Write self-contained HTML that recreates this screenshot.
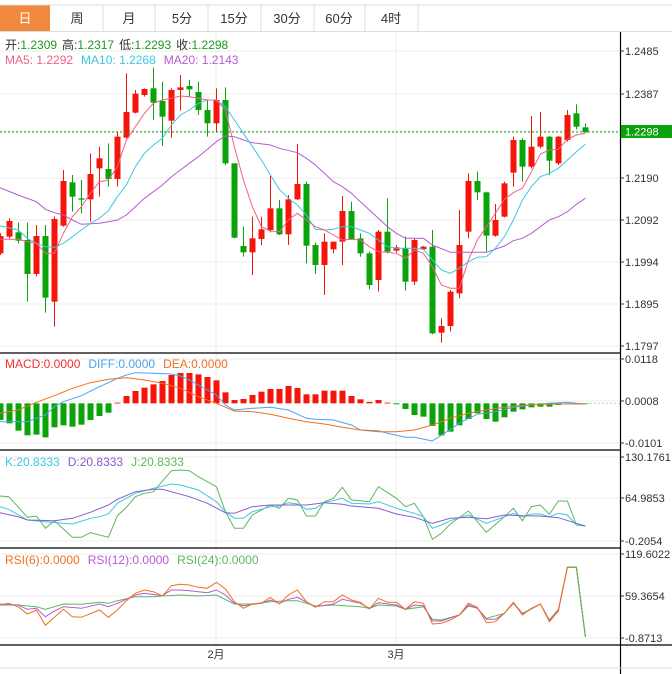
<!DOCTYPE html>
<html><head><meta charset="utf-8"><style>
html,body{margin:0;padding:0;background:#fff;}
body{width:672px;height:674px;overflow:hidden;position:relative;font-family:"Liberation Sans","Noto Sans CJK SC",sans-serif;}
svg{position:absolute;left:0;top:0;}
</style></head><body>
<svg id="s" width="672" height="674" xmlns="http://www.w3.org/2000/svg" font-family="Liberation Sans, Noto Sans CJK SC, sans-serif">
<rect x="0" y="5" width="50" height="26" fill="#f0883e"/>
<line x1="0" y1="5" x2="672" y2="5" stroke="#ddd"/>
<line x1="0" y1="31.5" x2="672" y2="31.5" stroke="#ddd"/>
<g stroke="#ddd"><line x1="103" y1="5" x2="103" y2="31"/><line x1="155" y1="5" x2="155" y2="31"/><line x1="208" y1="5" x2="208" y2="31"/><line x1="261" y1="5" x2="261" y2="31"/><line x1="314" y1="5" x2="314" y2="31"/><line x1="365" y1="5" x2="365" y2="31"/><line x1="418" y1="5" x2="418" y2="31"/></g>
<g font-size="13" text-anchor="middle" fill="#333">
<text x="25" y="23" fill="#fff">日</text><text x="77" y="23">周</text><text x="129" y="23">月</text><text x="182" y="23">5分</text><text x="234" y="23">15分</text><text x="287" y="23">30分</text><text x="339" y="23">60分</text><text x="391" y="23">4时</text>
</g>
<g id="grid" stroke="#eee" stroke-width="1"></g>
<g id="draw"></g>
<g stroke="#000" stroke-width="1.2">
<line x1="0" y1="353" x2="620" y2="353"/><line x1="0" y1="450" x2="620" y2="450"/><line x1="0" y1="548" x2="620" y2="548"/><line x1="0" y1="645" x2="672" y2="645"/>
<line x1="620.5" y1="32" x2="620.5" y2="674"/>
</g>
<line x1="0" y1="668" x2="672" y2="668" stroke="#ddd"/>
<g font-size="11" fill="#333" id="ax"></g>
<rect x="621" y="125" width="51" height="13" fill="#0aa30a"/>
<text x="625" y="135.5" font-size="11" fill="#fff">1.2298</text>
<g font-size="12">
<text x="5" y="49"><tspan fill="#333">开:</tspan><tspan fill="#1a9a1a">1.2309</tspan><tspan fill="#333" dx="5">高:</tspan><tspan fill="#1a9a1a">1.2317</tspan><tspan fill="#333" dx="5">低:</tspan><tspan fill="#1a9a1a">1.2293</tspan><tspan fill="#333" dx="5">收:</tspan><tspan fill="#1a9a1a">1.2298</tspan></text>
<text x="5" y="64"><tspan fill="#f0608a">MA5: 1.2292</tspan><tspan fill="#3cc8e0" dx="8">MA10: 1.2268</tspan><tspan fill="#b65bd0" dx="8">MA20: 1.2143</tspan></text>
<text x="5" y="368"><tspan fill="#f03030">MACD:0.0000</tspan><tspan fill="#4aa3f0" dx="8">DIFF:0.0000</tspan><tspan fill="#f07020" dx="8">DEA:0.0000</tspan></text>
<text x="5" y="466"><tspan fill="#3cc8e0">K:20.8333</tspan><tspan fill="#8a5cd0" dx="8">D:20.8333</tspan><tspan fill="#5cb85c" dx="8">J:20.8333</tspan></text>
<text x="5" y="564"><tspan fill="#f07020">RSI(6):0.0000</tspan><tspan fill="#b65bd0" dx="8">RSI(12):0.0000</tspan><tspan fill="#5cb85c" dx="8">RSI(24):0.0000</tspan></text>
<text x="216" y="658" text-anchor="middle" font-size="11" fill="#333">2月</text>
<text x="396" y="658" text-anchor="middle" font-size="11" fill="#333">3月</text>
</g>
</svg>
<script>
var NS="http://www.w3.org/2000/svg";
function el(p,t,a){var e=document.createElementNS(NS,t);for(var k in a)e.setAttribute(k,a[k]);p.appendChild(e);return e;}
var G=document.getElementById('grid'),D=document.getElementById('draw'),A=document.getElementById('ax');
function X(z){return z/2.3333;}
function Y1(z){return z/3;}
function Y2(z){return 350+z/3;}
// grid
[51,94,131,178,220,262,304,346,359,401,443,457,498,541,554,596,638].forEach(function(y){el(G,'line',{x1:0,y1:y,x2:620,y2:y});});
[216,396].forEach(function(x){el(G,'line',{x1:x,y1:32,x2:x,y2:645});});
// axis labels
[[51,'1.2485'],[94,'1.2387'],[178,'1.2190'],[220,'1.2092'],[262,'1.1994'],[304,'1.1895'],[346,'1.1797'],[359,'0.0118'],[401,'0.0008'],[443,'-0.0101'],[457,'130.1761'],[498,'64.9853'],[541,'-0.2054'],[554,'119.6022'],[596,'59.3654'],[638,'-0.8713']].forEach(function(a){
 el(A,'line',{x1:620,y1:a[0],x2:624,y2:a[0],stroke:'#333'});
 var t=el(A,'text',{x:625,y:a[0]+4});t.textContent=a[1];});
// candles: color, bodyTop, bodyBot, wickTop, wickBot (zoom coords)
var C=[['r',708,760,700,765],['r',663,710,655,715],['g',697,722,668,730],['g',720,822,668,905],['r',708,822,675,830],['g',708,893,675,938],['r',657,905,650,980],['r',543,677,510,680],['g',547,590,525,635],['g',595,599,540,640],['r',522,598,460,665],['r',475,505,440,590],['g',507,537,430,560],['r',410,537,395,560],['r',336,413,220,415],['r',281,338,270,340],['r',267,285,265,290],['g',265,308,203,360],['g',303,350,245,438],['r',270,362,265,413],['r',262,270,225,332],['g',258,268,240,290],['g',276,330,245,345],['g',330,370,300,410],['r',300,370,265,395],['g',300,490,262,495],['g',490,713,490,715],['g',738,757,680,770],['r',715,757,650,825],['r',688,717,650,735],['r',625,690,528,697],['g',625,703,600,705],['r',598,703,585,735],['r',552,598,432,600],['g',552,737,545,790],['g',735,795,728,822],['r',725,795,700,885],['r',725,748,725,760],['r',633,725,588,795],['g',633,718,605,720],['g',715,760,700,770],['g',760,855,755,868],['r',695,840,690,875],['g',695,755,595,760],['r',742,752,735,757],['g',745,845,710,872],['r',720,845,715,855],['r',740,748,738,750],['g',740,1000,690,1003],['r',978,998,955,1028],['r',875,978,870,995],['r',735,880,630,895],['r',543,695,520,715],['g',543,577,515,600],['g',577,707,575,755],['r',660,707,612,710],['r',550,650,545,652],['r',420,518,410,560],['g',420,500,415,545],['r',440,500,348,505],['r',410,440,336,445],['g',410,482,408,525],['r',410,490,408,495],['r',345,420,330,425],['g',340,380,313,388],['g',382,397,370,398]];
var RED='#f5150a',GRN='#0aa30a';
C.forEach(function(c,i){var x=9*i+0.5,col=c[0]=='r'?RED:GRN;
 el(D,'line',{x1:x,y1:Y1(c[3]),x2:x,y2:Y1(c[4]),stroke:col,'stroke-width':1});
 el(D,'rect',{x:x-3,y:Y1(c[1]),width:6,height:Math.max(1,Y1(c[2])-Y1(c[1])),fill:col});});
function line(pts,yf,col,extra){var d=pts.map(function(p,i){return (i?'L':'M')+X(p[0]).toFixed(1)+' '+yf(p[1]).toFixed(1);}).join(' ');
 var a={d:d,fill:'none',stroke:col,'stroke-width':1};for(var k in extra)a[k]=extra[k];el(D,'path',a);}
// current price dotted
el(D,'line',{x1:0,y1:132,x2:620,y2:132,stroke:'#0aa30a','stroke-dasharray':'2,2'});
line([[0,563],[42,585],[85,605],[106,628],[127,638],[148,645],[169,660],[190,673],[232,670],[253,665],[274,660],[295,645],[316,620],[337,595],[358,575],[379,555],[400,530],[421,510],[442,490],[463,470],[484,448],[505,425],[526,408],[547,410],[568,420],[589,428],[631,435],[652,445],[694,458],[715,475],[736,495],[757,520],[778,545],[799,560],[820,580],[841,605],[862,630],[883,655],[904,680],[925,700],[946,715],[988,715],[1009,735],[1051,757],[1135,757],[1177,738],[1198,722],[1219,715],[1240,700],[1261,680],[1282,660],[1303,650],[1324,635],[1345,613],[1366,595]],Y1,'#b65bd0');
line([[0,677],[42,690],[64,715],[85,730],[106,740],[127,742],[148,730],[169,710],[190,690],[211,670],[232,655],[253,632],[274,590],[295,555],[316,500],[337,460],[358,435],[379,415],[400,375],[421,345],[442,330],[463,310],[484,300],[505,300],[526,320],[547,360],[568,400],[589,440],[610,480],[631,525],[652,568],[673,595],[694,615],[715,645],[736,688],[757,690],[778,688],[799,680],[820,680],[841,690],[862,700],[883,720],[904,740],[925,745],[946,745],[967,745],[988,748],[1009,780],[1030,810],[1051,820],[1072,805],[1093,785],[1114,772],[1135,770],[1156,745],[1177,710],[1198,660],[1219,600],[1240,560],[1261,530],[1282,520],[1303,505],[1324,480],[1345,455],[1366,432]],Y1,'#3cc8e0');
line([[0,718],[42,718],[64,725],[85,730],[106,760],[127,760],[148,700],[169,650],[190,620],[211,580],[232,545],[253,540],[274,500],[295,420],[316,380],[337,340],[358,310],[379,300],[400,295],[421,288],[442,290],[463,295],[484,300],[505,300],[526,330],[547,440],[568,540],[589,620],[610,680],[631,693],[652,695],[673,660],[694,640],[715,660],[736,680],[757,690],[778,705],[799,720],[820,718],[841,720],[862,740],[883,755],[904,757],[925,760],[946,775],[967,750],[988,760],[1009,800],[1030,855],[1051,865],[1072,865],[1093,780],[1114,720],[1135,680],[1156,640],[1177,598],[1198,578],[1219,565],[1240,515],[1261,462],[1282,450],[1303,448],[1324,418],[1345,405],[1366,400]],Y1,'#f0608a');
// MACD histogram
var H=[210,220,242,256,254,262,232,226,230,224,210,198,188,158,138,123,113,103,93,75,69,69,73,81,91,127,150,147,135,125,117,117,108,114,133,133,122,122,122,138,148,156,150,158,163,177,195,200,228,256,245,226,207,190,207,215,202,185,178,172,170,170,165,162,161,161];
var Z=Y2(160);
H.forEach(function(h,i){var x=9*i+0.5,y=Y2(h),col=h<160?RED:GRN;
 el(D,'rect',{x:x-3,y:Math.min(y,Z),width:6,height:Math.max(0.8,Math.abs(y-Z)),fill:col});});
el(D,'line',{x1:586,y1:Y2(160),x2:620,y2:Y2(160),stroke:'#9ed8f0','stroke-dasharray':'2,2'});
line([[0,215],[64,215],[106,195],[127,170],[148,155],[190,137],[232,110],[253,98],[274,85],[295,75],[316,68],[358,70],[400,72],[421,78],[442,90],[463,105],[484,120],[505,135],[526,165],[547,180],[589,175],[631,172],[673,180],[715,205],[736,208],[778,210],[820,225],[841,240],[883,242],[904,250],[946,262],[967,262],[1009,273],[1051,238],[1072,220],[1093,205],[1114,193],[1156,185],[1198,172],[1240,165],[1282,160],[1324,157],[1345,160],[1366,162]],Y2,'#4aa3f0');
line([[0,190],[42,180],[85,157],[127,137],[169,115],[211,98],[253,88],[295,83],[337,90],[379,100],[421,115],[463,140],[505,160],[547,183],[589,185],[631,193],[673,205],[715,215],[757,222],[799,232],[841,240],[883,245],[925,245],[967,240],[1009,225],[1051,205],[1093,190],[1135,180],[1177,172],[1219,166],[1261,163],[1303,162],[1366,162]],Y2,'#f07020');
// KDJ
line([[0,438],[20,440],[42,470],[64,502],[85,498],[106,535],[127,512],[169,562],[190,562],[211,548],[253,562],[274,497],[295,472],[316,440],[337,430],[358,425],[400,362],[421,360],[442,362],[463,380],[505,410],[526,485],[547,535],[568,535],[589,495],[631,465],[652,475],[673,445],[694,450],[715,498],[736,498],[757,455],[778,445],[799,412],[820,450],[841,452],[862,455],[883,410],[925,445],[946,470],[967,460],[988,500],[1009,568],[1030,550],[1051,522],[1093,483],[1135,547],[1177,500],[1198,475],[1219,512],[1240,470],[1261,465],[1282,493],[1303,453],[1324,453],[1345,525],[1366,528]],Y2,'#5cb85c');
line([[0,470],[20,478],[64,510],[106,515],[148,520],[169,522],[211,505],[232,500],[253,492],[274,460],[316,430],[358,415],[400,402],[421,405],[463,420],[505,455],[526,485],[547,505],[568,505],[589,485],[631,470],[652,468],[673,458],[694,462],[715,478],[736,475],[757,458],[799,445],[820,460],[862,462],[883,455],[925,475],[967,490],[988,500],[1009,535],[1030,525],[1051,512],[1093,495],[1135,520],[1177,500],[1198,490],[1219,500],[1240,492],[1261,492],[1282,500],[1303,490],[1324,495],[1345,525],[1366,528]],Y2,'#3cc8e0');
line([[0,488],[42,500],[64,510],[127,512],[169,505],[211,487],[253,465],[274,448],[316,425],[358,418],[379,418],[400,425],[442,440],[484,460],[526,488],[547,490],[589,470],[631,465],[673,465],[715,465],[757,458],[799,463],[820,468],[883,475],[925,492],[967,502],[1009,520],[1051,505],[1093,502],[1135,506],[1177,495],[1219,497],[1261,498],[1303,503],[1345,520],[1366,528]],Y2,'#8a5cd0');
// RSI
line([[0,762],[42,765],[85,770],[106,778],[148,762],[190,763],[232,757],[253,760],[274,752],[316,740],[358,740],[379,738],[421,735],[463,738],[505,735],[547,762],[589,762],[631,755],[673,752],[694,752],[736,768],[778,765],[841,770],[862,775],[883,765],[925,768],[946,778],[988,770],[1009,808],[1030,810],[1072,795],[1093,768],[1114,775],[1135,805],[1177,790],[1198,758],[1219,790],[1261,762],[1282,810],[1303,778],[1324,652],[1345,652],[1366,860]],Y2,'#5cb85c');
line([[0,765],[42,765],[64,778],[85,775],[106,800],[127,783],[148,770],[190,775],[232,762],[253,770],[274,760],[316,735],[337,730],[379,737],[400,720],[421,720],[442,722],[484,728],[505,720],[526,735],[547,760],[568,767],[610,760],[631,750],[652,760],[673,748],[694,742],[736,770],[778,762],[799,748],[841,760],[862,775],[883,758],[925,765],[946,778],[967,765],[988,767],[1009,813],[1030,813],[1072,795],[1093,765],[1114,775],[1135,808],[1156,808],[1177,790],[1198,760],[1219,792],[1261,762],[1282,812],[1303,780],[1324,652],[1345,652],[1366,860]],Y2,'#b65bd0');
line([[0,765],[20,760],[42,770],[64,792],[85,780],[106,826],[127,802],[148,778],[169,800],[190,802],[232,780],[253,802],[274,780],[295,752],[316,730],[337,720],[358,725],[379,738],[400,707],[421,703],[442,705],[463,712],[484,715],[505,697],[526,717],[547,755],[568,775],[589,762],[610,760],[631,742],[652,762],[673,735],[694,720],[715,755],[736,772],[757,755],[778,755],[799,735],[820,750],[841,757],[862,777],[883,745],[904,757],[925,757],[946,778],[967,755],[988,760],[1009,822],[1030,820],[1051,810],[1072,795],[1093,760],[1114,772],[1135,818],[1156,815],[1177,790],[1198,757],[1219,795],[1240,775],[1261,762],[1282,815],[1303,783],[1324,652],[1345,652],[1366,860]],Y2,'#f07020');
line([[1324,652],[1345,652],[1366,860]],Y2,'#5cb85c');
</script>
</body></html>
